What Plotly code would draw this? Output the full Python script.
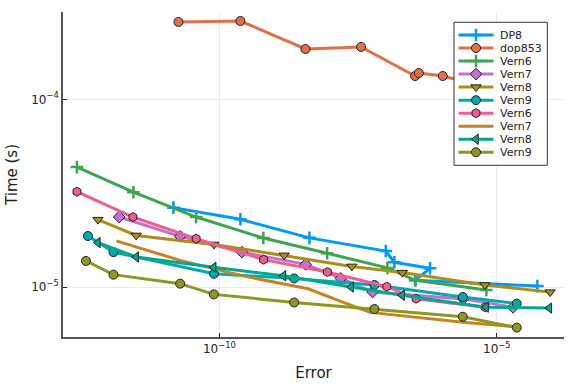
import plotly.graph_objects as go

# log10 values
dp8_x = [-10.83, -9.622, -8.378, -7.002, -6.847, -6.204, -6.474, -4.270]
dp8_y = [-4.577, -4.639, -4.738, -4.808, -4.868, -4.900, -4.964, -4.995]

dop853_x = [-10.739, -9.622, -8.450, -7.447, -6.474, -6.407, -5.975, -5.393]
dop853_y = [-3.588, -3.583, -3.732, -3.721, -3.876, -3.860, -3.876, -3.920]

vern6_x = [-12.569, -11.550, -10.420, -9.209, -8.059, -6.973, -6.465, -5.189]
vern6_y = [-4.361, -4.495, -4.627, -4.739, -4.820, -4.898, -4.964, -5.016]

vern7_x = [-11.807, -10.708, -9.596, -8.447, -7.813, -7.240, -5.604, -4.708]
vern7_y = [-4.627, -4.730, -4.814, -4.879, -4.954, -5.026, -5.063, -5.108]

vern8_x = [-12.191, -11.501, -10.099, -8.834, -7.614, -6.703, -5.218, -4.041]
vern8_y = [-4.641, -4.725, -4.773, -4.831, -4.890, -4.923, -4.989, -5.027]

vern9_x = [-12.371, -11.910, -10.099, -8.654, -7.207, -5.614, -4.641]
vern9_y = [-4.728, -4.814, -4.929, -4.954, -4.989, -5.053, -5.088]

vern6b_x = [-12.569, -11.560, -10.420, -9.204, -8.054, -6.984, -6.456, -5.213]
vern6b_y = [-4.492, -4.627, -4.742, -4.854, -4.920, -4.998, -5.062, -5.107]

vern7b_x = [-11.859, -10.708, -9.537, -8.402, -7.826, -7.285, -5.609, -4.641]
vern7b_y = [-4.754, -4.858, -4.943, -5.009, -5.075, -5.135, -5.187, -5.212]

vern8b_x = [-12.191, -11.501, -10.105, -8.847, -7.627, -6.708, -5.195, -4.054]
vern8b_y = [-4.763, -4.840, -4.895, -4.940, -5.000, -5.044, -5.107, -5.112]

vern9b_x = [-12.407, -11.910, -10.708, -10.101, -8.654, -7.207, -5.614, -4.641]
vern9b_y = [-4.861, -4.934, -4.982, -5.039, -5.082, -5.117, -5.158, -5.216]

x_tick_vals = [-10, -5]
x_tick_text = ["10<sup>−10</sup>", "10<sup>−5</sup>"]
y_tick_vals = [-5, -4]
y_tick_text = ["10<sup>−5</sup>", "10<sup>−4</sup>"]

series = [
    ("DP8", dp8_x, dp8_y, "#009AFA", "cross-thin"),
    ("dop853", dop853_x, dop853_y, "#E36F47", "circle"),
    ("Vern6", vern6_x, vern6_y, "#3EA44E", "cross-thin"),
    ("Vern7", vern7_x, vern7_y, "#C371D2", "diamond"),
    ("Vern8", vern8_x, vern8_y, "#AC8E18", "triangle-down"),
    ("Vern9", vern9_x, vern9_y, "#00AAAE", "circle"),
    ("Vern6", vern6b_x, vern6b_y, "#ED5E93", "hexagon"),
    ("Vern7", vern7b_x, vern7b_y, "#C68225", None),
    ("Vern8", vern8b_x, vern8b_y, "#00A98D", "triangle-left"),
    ("Vern9", vern9b_x, vern9b_y, "#8E971E", "circle"),
]

# figure geometry (pixels)
W, H = 576, 384
ML, MR, MT, MB = 63, 12, 12, 47
P_LEFT, P_RIGHT = ML, W - MR
P_TOP, P_BOTTOM = MT, H - MB

# legend geometry (pixels, in the overlay axes which map 1:1 to pixels)
LEG_LEFT, LEG_RIGHT, LEG_TOP = 454, 547.3, 22.3
ROW_H = 13.03
LEG_PAD_TOP = 12.7
LEG_BOTTOM = LEG_TOP + LEG_PAD_TOP + ROW_H * (len(series) - 1) + 13.0
SAMPLE_X0, SAMPLE_X1 = 458.5, 493.5
TEXT_X = 498


def marker_style(col, sym):
    if sym == "cross-thin":
        return dict(symbol=sym, size=9, color=col,
                    line=dict(color=col, width=2.5))
    return dict(symbol=sym, size=9, color=col,
                line=dict(color="#222222", width=1))


fig = go.Figure()
for name, xs, ys, col, sym in series:
    xv = [10 ** v for v in xs]
    yv = [10 ** v for v in ys]
    if sym is None:
        fig.add_trace(go.Scatter(x=xv, y=yv, name=name, mode="lines",
                                 line=dict(color=col, width=3), showlegend=False))
    else:
        fig.add_trace(go.Scatter(x=xv, y=yv, name=name, mode="lines+markers",
                                 line=dict(color=col, width=3),
                                 marker=marker_style(col, sym), showlegend=False))

# legend box (overlay axes, pixel units)
fig.add_trace(go.Scatter(
    x=[LEG_LEFT, LEG_RIGHT, LEG_RIGHT, LEG_LEFT, LEG_LEFT],
    y=[LEG_TOP, LEG_TOP, LEG_BOTTOM, LEG_BOTTOM, LEG_TOP],
    xaxis="x2", yaxis="y2", mode="lines", fill="toself", fillcolor="white",
    line=dict(color="#333333", width=1), hoverinfo="skip", showlegend=False))

annotations = []
for i, (name, xs, ys, col, sym) in enumerate(series):
    yy = LEG_TOP + LEG_PAD_TOP + i * ROW_H
    fig.add_trace(go.Scatter(x=[SAMPLE_X0, SAMPLE_X1], y=[yy, yy], xaxis="x2", yaxis="y2",
                             mode="lines", line=dict(color=col, width=3),
                             hoverinfo="skip", showlegend=False))
    if sym is not None:
        fig.add_trace(go.Scatter(x=[(SAMPLE_X0 + SAMPLE_X1) / 2], y=[yy],
                                 xaxis="x2", yaxis="y2", mode="markers",
                                 marker=marker_style(col, sym), hoverinfo="skip",
                                 showlegend=False))
    annotations.append(dict(x=TEXT_X, y=yy, xref="x2", yref="y2", text=name,
                            showarrow=False, xanchor="left", yanchor="middle",
                            font=dict(family="DejaVu Sans", size=11, color="#222222")))

axis_common = dict(
    type="log", showline=True, linecolor="#555555", linewidth=1.5,
    mirror=False, ticks="inside", ticklen=4, tickcolor="#222222",
    showgrid=True, gridcolor="#EBEBEB", gridwidth=1, zeroline=False,
    tickfont=dict(family="DejaVu Sans", size=12, color="#222222"),
    automargin=False,
)

fig.update_layout(
    width=W, height=H,
    margin=dict(l=ML, r=MR, t=MT, b=MB, autoexpand=False),
    paper_bgcolor="white", plot_bgcolor="white",
    font=dict(family="DejaVu Sans", color="#222222"),
    xaxis=dict(axis_common, range=[-12.82, -3.79], tickvals=[10 ** v for v in x_tick_vals],
               ticktext=x_tick_text,
               title=dict(text="Error", font=dict(size=15), standoff=12)),
    yaxis=dict(axis_common, range=[-5.266, -3.535], tickvals=[10 ** v for v in y_tick_vals],
               ticktext=y_tick_text,
               title=dict(text="Time (s)", font=dict(size=15), standoff=10)),
    xaxis2=dict(overlaying="x", range=[P_LEFT, P_RIGHT], visible=False, fixedrange=True),
    yaxis2=dict(overlaying="y", range=[P_BOTTOM, P_TOP], visible=False, fixedrange=True),
    annotations=annotations,
    showlegend=False,
)

fig.write_html("out.html", post_script="document.body.style.margin='0';",
               config={"displayModeBar": False})
